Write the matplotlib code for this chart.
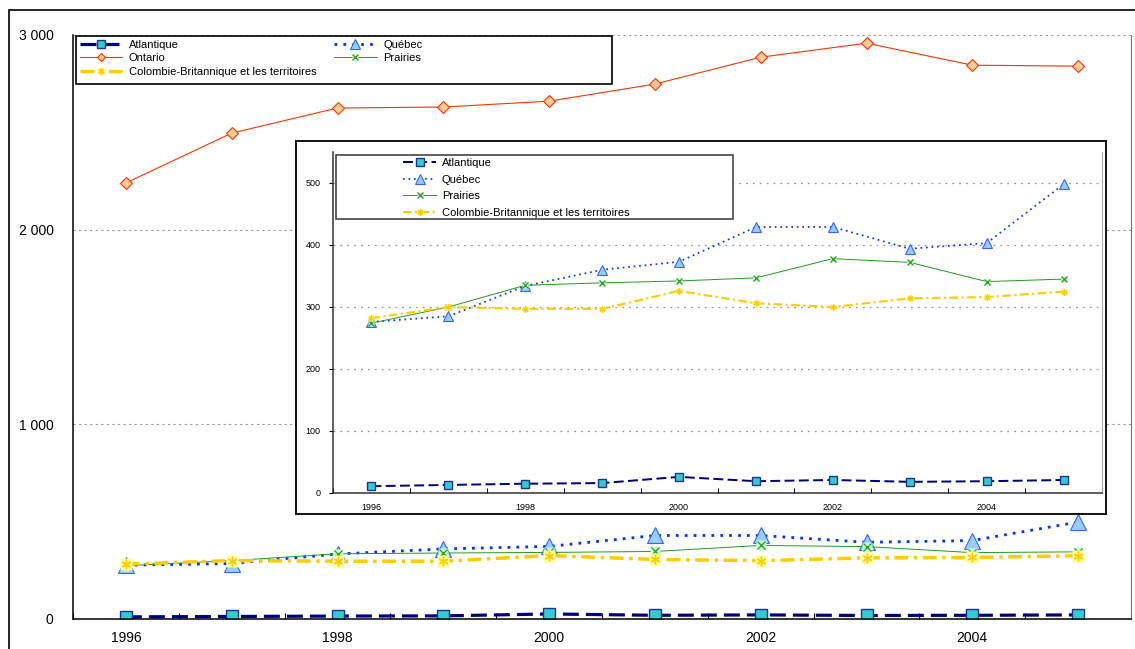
import numpy as np
import matplotlib
matplotlib.use("Agg")
import matplotlib.pyplot as plt
from matplotlib.patches import Rectangle
from matplotlib.ticker import FuncFormatter, FixedLocator
from matplotlib.legend_handler import HandlerTuple

plt.rcParams["font.family"] = ["Liberation Sans", "DejaVu Sans"]

# data
years = [1996, 1997, 1998, 1999, 2000, 2001, 2002, 2003, 2004, 2005]
atlantique = [11, 13, 15, 16, 26, 19, 21, 18, 19, 21]
quebec = [276, 285, 334, 360, 373, 429, 429, 394, 403, 498]
ontario = [2240, 2496, 2625, 2630, 2660, 2748, 2886, 2958, 2845, 2840]
prairies = [274, 300, 335, 339, 342, 347, 378, 372, 341, 345]
cb = [282, 300, 297, 297, 326, 306, 300, 314, 316, 325]

main_yticks = [0, 1000, 2000, 3000]
inset_yticks = [0, 100, 200, 300, 400, 500]
label_years = [1996, 1998, 2000, 2002, 2004]

W, H = 1135, 649


def box(x0, y0, x1, y1):
    # pixel box (top-left origin) -> figure fraction rect
    return [x0 / W, 1 - y1 / H, (x1 - x0) / W, (y1 - y0) / H]


def fpt(x, y):
    return (x / W, 1 - y / H)


def thousands(v, pos):
    return f"{int(v):,}".replace(",", " ")


NAVY = "#000080"
CYAN = "#33cccc"
BLUE = "#0033ff"
LBLUE = "#99ccff"
RED = "#ff3300"
LORANGE = "#ffcc99"
GREEN = "#229922"
LGREEN = "#ccffcc"
GOLD = "#ffcc00"
LYELLOW = "#ffff99"


def draw_series(ax, scale, with_ontario):
    ms = scale
    h = {}
    h["Atlantique"] = ax.plot(years, atlantique, color=NAVY, lw=2.3 * ms, dashes=(5, 2.2),
                              marker="s", ms=8.5 * ms, mfc=CYAN, mec="#1a3399", mew=1.0)[0]
    h["Québec"] = ax.plot(years, quebec, color=BLUE, lw=2.0 * ms, dashes=(1.0, 2.2),
                          marker="^", ms=11 * ms, mfc=LBLUE, mec="#3366ff", mew=0.8)[0]
    if with_ontario:
        h["Ontario"] = ax.plot(years, ontario, color=RED, lw=0.8,
                               marker="D", ms=6.5, mfc=LORANGE, mec=RED, mew=0.8)[0]
    p1 = ax.plot(years, prairies, color=GREEN, lw=0.7,
                 marker="s", ms=7.5 * ms, mfc=LGREEN, mec="none")[0]
    p2 = ax.plot(years, prairies, ls="none", marker="x", ms=6 * ms, mec=GREEN, mew=0.9)[0]
    h["Prairies"] = (p1, p2)
    c1 = ax.plot(years, cb, color=GOLD, lw=2.5 * ms, dashes=(4.0, 1.6, 1.0, 1.6),
                 marker="s", ms=8 * ms, mfc=LYELLOW, mec="none")[0]
    c2 = ax.plot(years, cb, ls="none", marker=(6, 2, 0), ms=7 * ms, mec=GOLD, mew=1.0)[0]
    h["Colombie-Britannique et les territoires"] = (c1, c2)
    return h


fig = plt.figure(figsize=(W / 100, H / 100), dpi=100)

# outer chart border
fig.add_artist(Rectangle(fpt(9, 700), 1200 / W, 690 / H, transform=fig.transFigure,
                         fill=False, ec="black", lw=1.2))

# main chart
ax = fig.add_axes(box(73, 35, 1131, 619))
ax.set_xlim(1995.5, 2005.5)
ax.set_ylim(0, 3000)
handles = draw_series(ax, 1.0, True)
ax.set_yticks(main_yticks)
ax.yaxis.set_major_formatter(FuncFormatter(thousands))
ax.set_xticks(label_years)
ax.set_xticklabels([str(y) for y in label_years])
ax.xaxis.set_minor_locator(FixedLocator(np.arange(1995.5, 2006, 1.0)))
ax.tick_params(axis="x", which="major", length=0, pad=9, labelsize=10)
ax.tick_params(axis="x", which="minor", length=4, direction="in", width=0.8)
ax.tick_params(axis="y", length=0, pad=14, labelsize=10)
ax.yaxis.grid(True, color="#999999", ls=(0, (2, 3)), lw=0.8)
ax.set_axisbelow(True)
ax.spines["top"].set_visible(False)
ax.spines["right"].set_color("#777777")
for s in ("left", "bottom"):
    ax.spines[s].set_linewidth(1.1)

ax.add_patch(Rectangle(fpt(76, 84), 536 / W, 48 / H, transform=fig.transFigure,
                       fc="white", ec="black", lw=1.2, zorder=4))
order = ["Atlantique", "Ontario", "Colombie-Britannique et les territoires", "Québec", "Prairies"]
leg = ax.legend([handles[k] for k in order], order, ncol=2, frameon=False,
                loc="upper left", bbox_to_anchor=fpt(80, 40), bbox_transform=fig.transFigure,
                fontsize=8, borderpad=0, borderaxespad=0, handlelength=3.8,
                handletextpad=0.6, labelspacing=0.3, columnspacing=1.6, markerscale=0.65,
                handler_map={tuple: HandlerTuple(ndivide=1, pad=0)})
leg.set_zorder(5)

# inset frame
frame = fig.add_axes(box(296, 141, 1106, 514))
frame.set_xticks([])
frame.set_yticks([])
frame.set_facecolor("white")
for s in frame.spines.values():
    s.set_linewidth(1.3)
    s.set_color("black")
frame.set_zorder(2)

# inset chart
ins = fig.add_axes(box(333, 152, 1102, 493))
ins.set_zorder(3)
ins.patch.set_alpha(0)
ins.set_xlim(1995.5, 2005.5)
ins.set_ylim(0, 550)
ih = draw_series(ins, 0.62, False)
ins.set_yticks(inset_yticks)
ins.set_xticks(label_years)
ins.set_xticklabels([str(y) for y in label_years])
ins.xaxis.set_minor_locator(FixedLocator(np.arange(1995.5, 2006, 1.0)))
ins.tick_params(axis="x", which="major", length=0, pad=7, labelsize=6.5)
ins.tick_params(axis="x", which="minor", length=3.5, direction="in", width=0.8)
ins.tick_params(axis="y", length=3, direction="out", pad=6, labelsize=6.5, width=0.8)
ins.yaxis.grid(True, color="#999999", ls=(0, (1.5, 4)), lw=0.9)
ins.set_axisbelow(True)
ins.spines["top"].set_visible(False)
ins.spines["right"].set_color("#aaaaaa")
for s in ("left", "bottom"):
    ins.spines[s].set_color("#333333")
    ins.spines[s].set_linewidth(1.1)

ins.add_patch(Rectangle(fpt(336, 219), 397 / W, 64 / H, transform=fig.transFigure,
                        fc="white", ec="#444444", lw=1.2, zorder=4))
iorder = ["Atlantique", "Québec", "Prairies", "Colombie-Britannique et les territoires"]
ileg = ins.legend([ih[k] for k in iorder], iorder, frameon=False,
                  loc="upper left", bbox_to_anchor=fpt(403, 158), bbox_transform=fig.transFigure,
                  fontsize=8, borderpad=0, borderaxespad=0, handlelength=3.0,
                  handletextpad=0.5, labelspacing=0.6,
                  handler_map={tuple: HandlerTuple(ndivide=1, pad=0)})
ileg.set_zorder(5)

fig.savefig("out.png", dpi=100)
